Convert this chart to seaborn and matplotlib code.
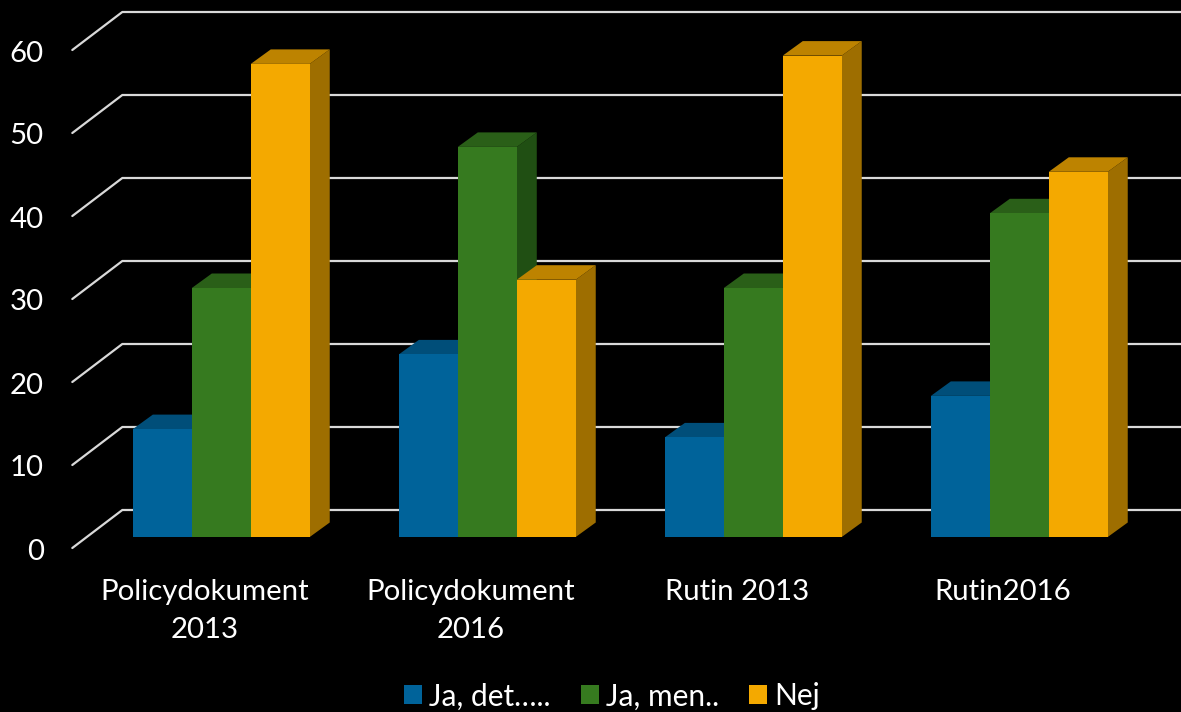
import matplotlib
matplotlib.use('Agg')
import matplotlib.pyplot as plt
from matplotlib.patches import Polygon
from matplotlib.transforms import Affine2D
import pandas as pd
import seaborn as sns

# Values
categories = ['Policydokument\n2013', 'Policydokument\n2016', 'Rutin 2013', 'Rutin2016']
series_names = ['Ja, det…..', 'Ja, men..', 'Nej']
ja_det = [13, 22, 12, 17]
ja_men = [30, 47, 30, 39]
nej = [57, 31, 58, 44]
y_ticks = [0, 10, 20, 30, 40, 50, 60]

colors = ['#00639A', '#367A1F', '#F4A900']
top_colors = ['#004E79', '#2A5F18', '#BD8300']
side_colors = ['#004468', '#204F13', '#9E6E00']

# Long table for seaborn
rows = []
for name, values in zip(series_names, [ja_det, ja_men, nej]):
    for cat, val in zip(categories, values):
        rows.append({'category': cat, 'series': name, 'value': val})
data = pd.DataFrame(rows)

sns.set_theme(style='dark', rc={'figure.facecolor': 'black', 'axes.facecolor': 'none'})
plt.rcParams['font.family'] = ['Lato', 'DejaVu Sans']

W, H = 1181, 712
fig = plt.figure(figsize=(W / 100, H / 100), dpi=100)
ax = fig.add_axes([88.3 / W, (H - 537) / H, (W - 88.3) / W, 498 / H])

sns.barplot(data=data, x='category', y='value', hue='series', hue_order=series_names,
            palette=colors, width=0.665, gap=0, saturation=1, linewidth=0, ax=ax)

# One group step is 266 px and ten units are 83 px
px_x = 1 / 266
px_y = 10 / 83
ax.set_xlim(-0.5, -0.5 + (W - 88.3) * px_x)
ax.set_ylim(0, 60)

# Back wall lines with their slanted floor part
for v in y_ticks:
    ax.plot([-0.5 - 16 * px_x, -0.5 + 34 * px_x, ax.get_xlim()[1]],
            [v - 11 * px_y, v + 27 * px_y, v + 27 * px_y],
            color='#D9D9D9', lw=1.6, clip_on=False, zorder=1)

# Fake 3D depth on every bar, drawn left to right so the next front covers it
depth_x = 20 * px_x
depth_y = 14.5 * px_y
bars = []
for i, container in enumerate(ax.containers):
    for bar in container:
        bars.append((bar.get_x(), bar, i))
bars.sort(key=lambda b: b[0])

z = 2
for x0, bar, i in bars:
    x1 = x0 + bar.get_width()
    h = bar.get_height()
    side = Polygon([(x1, 0), (x1 + depth_x, depth_y), (x1 + depth_x, h + depth_y), (x1, h)],
                   facecolor=side_colors[i], edgecolor='none', clip_on=False, zorder=z)
    top = Polygon([(x0, h), (x0 + depth_x, h + depth_y), (x1 + depth_x, h + depth_y), (x1, h)],
                  facecolor=top_colors[i], edgecolor='none', clip_on=False, zorder=z + 0.1)
    ax.add_patch(side)
    ax.add_patch(top)
    bar.set_zorder(z + 0.2)
    bar.set_clip_on(False)
    z += 1

for spine in ax.spines.values():
    spine.set_visible(False)
ax.set_xlabel('')
ax.set_ylabel('')
ax.grid(False)
ax.set_yticks(y_ticks)
ax.tick_params(axis='both', length=0, colors='white', labelsize=21.2)
ax.tick_params(axis='y', pad=32)
ax.tick_params(axis='x', pad=30)

for lab in ax.get_yticklabels():
    lab.set_transform(lab.get_transform() + Affine2D().translate(0, -12))
for lab in ax.get_xticklabels():
    lab.set_linespacing(1.6)
    lab.set_transform(lab.get_transform() + Affine2D().translate(-16.5, 0))

handles, labels = ax.get_legend_handles_labels()
ax.legend(handles, labels, loc='center', bbox_to_anchor=(612 / W, (H - 696.5) / H),
          bbox_transform=fig.transFigure, ncols=3, frameon=False, fontsize=21.5,
          labelcolor='white', handlelength=0.6, handleheight=0.6, handletextpad=0.24,
          columnspacing=1.0, borderpad=0, borderaxespad=0)

fig.savefig('out.png', dpi=100, facecolor='black')
